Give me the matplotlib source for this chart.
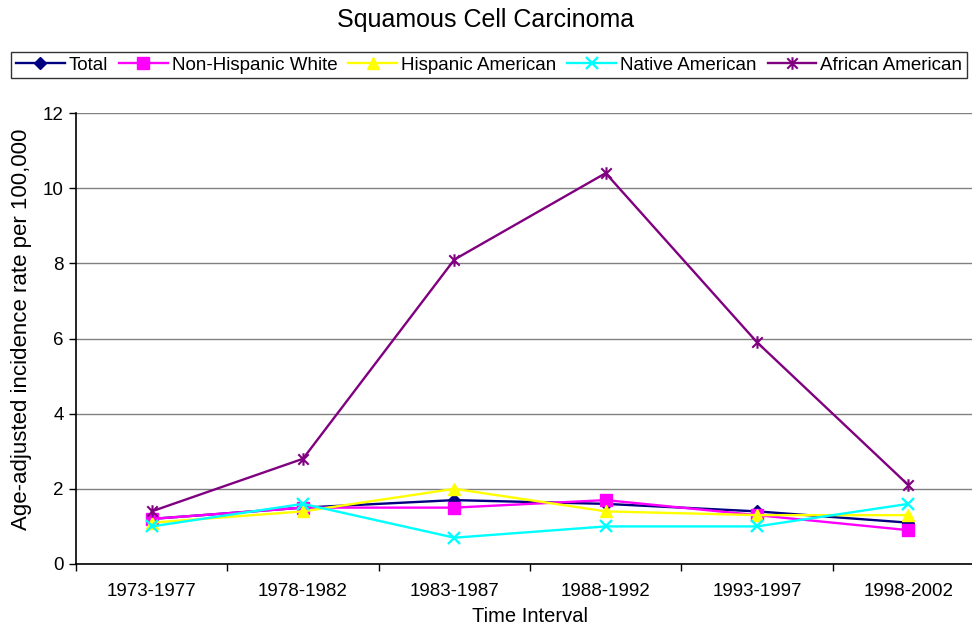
import numpy as np
import matplotlib.pyplot as plt
from matplotlib.path import Path

plt.rcParams['font.family'] = ['Liberation Sans', 'DejaVu Sans']

# Datos
intervals = ['1973-1977', '1978-1982', '1983-1987', '1988-1992', '1993-1997', '1998-2002']
total = [1.2, 1.5, 1.7, 1.6, 1.4, 1.1]
non_hispanic_white = [1.2, 1.5, 1.5, 1.7, 1.3, 0.9]
hispanic_american = [1.1, 1.4, 2.0, 1.4, 1.3, 1.3]
native_american = [1.0, 1.6, 0.7, 1.0, 1.0, 1.6]
african_american = [1.4, 2.8, 8.1, 10.4, 5.9, 2.1]

# Marcador tipo Excel: X con línea vertical
star = Path([(-1, -1), (1, 1), (-1, 1), (1, -1), (0, -1.2), (0, 1.2)],
            [Path.MOVETO, Path.LINETO, Path.MOVETO, Path.LINETO, Path.MOVETO, Path.LINETO])

x = np.arange(len(intervals)) + 0.5

fig = plt.figure(figsize=(9.72, 6.27), dpi=100)
ax = fig.add_axes([76/972, 1 - 564/627, 908/972, (564 - 113)/627])

ax.plot(x, total, color='#000080', marker='D', markersize=6.5, lw=1.7, label='Total')
ax.plot(x, non_hispanic_white, color='#FF00FF', marker='s', markersize=8, lw=1.7, label='Non-Hispanic White')
ax.plot(x, hispanic_american, color='#FFFF00', marker='^', markersize=9, lw=1.7, label='Hispanic American')
ax.plot(x, native_american, color='#00FFFF', marker='x', markersize=8.5, mew=1.7, lw=1.7, label='Native American')
ax.plot(x, african_american, color='#800080', marker=star, markersize=9, mew=1.5, lw=1.7, label='African American')

ax.set_xlim(0, 6)
ax.set_ylim(0, 12)
ax.set_yticks(np.arange(0, 13, 2))
ax.set_xticks(np.arange(0, 7))
ax.set_xticklabels([])
ax.set_xticks(x, minor=True)
ax.set_xticklabels(intervals, minor=True)
ax.tick_params(axis='x', which='minor', length=0, pad=14, labelsize=13.5)
ax.tick_params(axis='x', which='major', length=5, width=1, direction='out')
ax.tick_params(axis='y', length=5, width=1, direction='out', labelsize=13.5, pad=4)

ax.yaxis.grid(True, color='#808080', lw=1)
ax.set_axisbelow(True)
for s in ['right', 'top']:
    ax.spines[s].set_visible(False)
ax.spines['left'].set_linewidth(1.2)
ax.spines['bottom'].set_linewidth(1.2)

ax.set_xlabel('Time Interval', fontsize=14.5, labelpad=5)
ax.set_ylabel('Age-adjusted incidence rate per 100,000', fontsize=16)
ax.yaxis.set_label_coords(-0.049, 0.52)
fig.text(0.5, 1 - 20/627, 'Squamous Cell Carcinoma', ha='center', va='center', fontsize=18)

leg = fig.legend(loc='center', bbox_to_anchor=(489/972, 1 - 65/627), ncol=5, frameon=True,
                 fancybox=False, edgecolor='black', fontsize=13.5, handlelength=2.6,
                 handletextpad=0.2, columnspacing=0.6, borderpad=0.25, borderaxespad=0)
leg.get_frame().set_linewidth(1)

fig.savefig('out.png', dpi=100)
